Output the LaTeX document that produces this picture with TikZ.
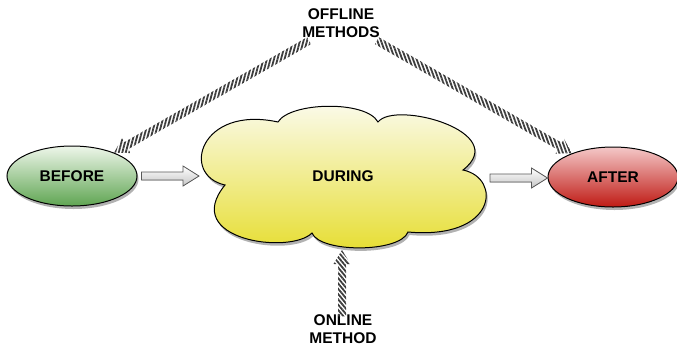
\documentclass[tikz,border=0pt]{standalone}
\usepackage{fontspec}
\setmainfont{Liberation Sans}
\usetikzlibrary{shapes.geometric,shadows,calc,patterns.meta}
\definecolor{grnTop}{HTML}{EEF6EA}
\definecolor{grnBot}{HTML}{5FA552}
\definecolor{redTop}{HTML}{F4C8C8}
\definecolor{redBot}{HTML}{BF1A14}
\definecolor{ylwTop}{HTML}{FBFBEE}
\definecolor{ylwBot}{HTML}{E6DD2E}
\definecolor{stripe}{HTML}{3C3C3C}
\newcommand\stripearrow[3]{%
  \coordinate (sa-h) at ($(#2)!14pt!(#1)$);
  \path[pattern={Lines[angle=#3,distance=3.4pt,line width=1.8pt]}, pattern color=stripe]
    ($(#1)!4pt!90:(#2)$) -- ($(sa-h)!4pt!90:(#2)$) -- ($(sa-h)!8.5pt!90:(#2)$) -- (#2)
    -- ($(sa-h)!8.5pt!-90:(#2)$) -- ($(sa-h)!4pt!-90:(#2)$) -- ($(#1)!4pt!-90:(#2)$) -- cycle;}
\newcommand\hollowarrow[2]{%
  \filldraw[hollow] let \p1=(#1), \p2=(#2) in
    (\x1,\y1+4pt) -- (\x2-16pt,\y1+4pt) -- (\x2-16pt,\y1+10pt) -- (\x2,\y1)
    -- (\x2-16pt,\y1-10pt) -- (\x2-16pt,\y1-4pt) -- (\x1,\y1-4pt) -- cycle;}
\begin{document}
\begin{tikzpicture}[x=1pt,y=1pt,
  lbl/.style={font=\fontsize{15.5}{18}\selectfont\bfseries, align=center, inner sep=0pt},
  shad/.style={drop shadow={shadow xshift=1.5pt, shadow yshift=-3pt, opacity=0.3, fill=black}},
  oval/.style={ellipse, draw=black, line width=1pt, minimum width=130pt, minimum height=60pt, inner sep=0pt, shad, lbl},
  hollow/.style={draw=gray!70!black, line width=0.8pt, top color=white, bottom color=gray!45}]
\useasboundingbox (0,0) rectangle (677,-346);

% cloud
\path[draw=black, line width=1pt, top color=ylwTop, bottom color=ylwBot, shad]
  (278,-122) .. controls (290,-102) and (366,-100) .. (378,-122)
  .. controls (395,-100) and (512,-132) .. (463,-170)
  .. controls (502,-178) and (497,-240) .. (408,-232)
  .. controls (400,-253) and (320,-253) .. (312,-233)
  .. controls (290,-255) and (180,-240) .. (225,-185)
  .. controls (180,-175) and (200,-105) .. (278,-122) -- cycle;
\node[lbl] (during) at (343,-176) {DURING};
\coordinate (duringW) at (199,-176);
\coordinate (duringE) at (489,-178);
\coordinate (duringS) at (342,-250);

\node[oval, top color=grnTop, bottom color=grnBot] (before) at (72,-176) {BEFORE};
\node[oval, top color=redTop, bottom color=redBot] (after) at (613,-177) {AFTER};

\node[lbl] (offline) at (341,-23) {OFFLINE\\METHODS};
\node[lbl] (online) at (343,-329) {ONLINE\\METHOD};

\coordinate (offL) at ($(offline.south west)+(7pt,-3pt)$);
\coordinate (offR) at ($(offline.south east)+(-3pt,-3pt)$);
\coordinate (onT) at ($(online.north)+(-1pt,-2pt)$);
\coordinate (befE) at ($(before.east)+(4pt,0)$);
\coordinate (durE) at ($(duringE)+(1pt,0)$);

\hollowarrow{befE}{duringW}
\hollowarrow{durE}{after.west}

\stripearrow{offL}{before.29}{75}
\stripearrow{offR}{after.150}{-70}
\stripearrow{onT}{duringS}{-50}
\end{tikzpicture}
\end{document}
